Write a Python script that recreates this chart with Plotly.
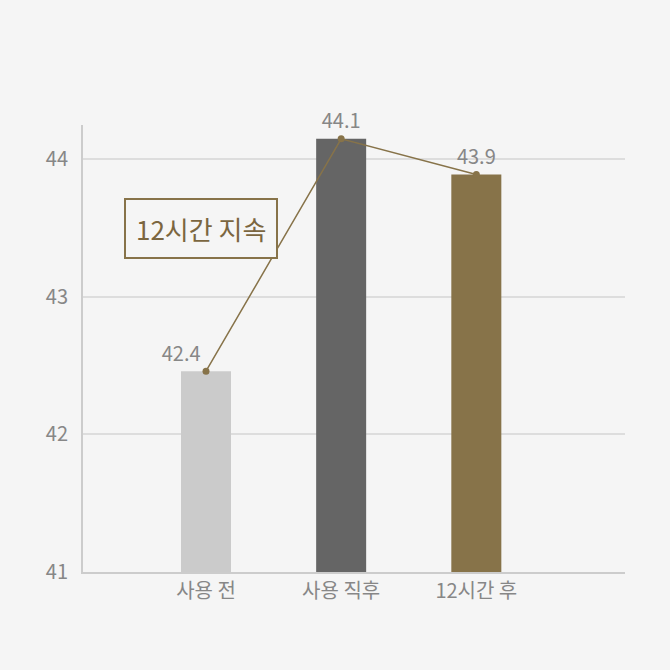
import plotly.graph_objects as go

categories = ["사용 전", "사용 직후", "12시간 후"]
values = [42.46, 44.15, 43.89]
value_labels = ["42.4", "44.1", "43.9"]
bar_colors = ["#cbcbcb", "#656565", "#877349"]
y_ticks = [41, 42, 43, 44]

font_family = "Noto Sans CJK KR"
line_color = "#877349"
bg = "#f5f5f5"

fig = go.Figure()

fig.add_trace(go.Bar(
    x=categories,
    y=values,
    marker=dict(color=bar_colors, line=dict(width=0)),
    width=0.37,
    hoverinfo="skip",
))

fig.add_trace(go.Scatter(
    x=categories,
    y=values,
    mode="lines+markers+text",
    line=dict(color=line_color, width=1.5),
    marker=dict(color=line_color, size=7),
    text=value_labels,
    textposition=["top left", "top center", "top center"],
    textfont=dict(size=20, color="#878787", family=font_family),
    cliponaxis=False,
))

fig.add_annotation(
    x=-0.04, y=43.5, xref="x", yref="y",
    text="12시간 지속",
    showarrow=False,
    font=dict(size=26, color="#7b6640", family=font_family),
    bgcolor=bg,
    bordercolor=line_color,
    borderwidth=2,
    borderpad=10,
)

fig.update_layout(
    width=670, height=670,
    paper_bgcolor=bg,
    plot_bgcolor=bg,
    showlegend=False,
    margin=dict(l=83, r=45, t=125, b=98),
    font=dict(family=font_family, color="#878787"),
)

fig.update_xaxes(
    range=[-0.91, 3.1],
    showgrid=False,
    showline=True, linecolor="#cccccc", linewidth=2,
    ticks="", ticklen=0,
    tickfont=dict(size=20, color="#878787"),
)

fig.update_yaxes(
    range=[41, 44.25],
    tickvals=y_ticks,
    showgrid=True, gridcolor="#dddddd", gridwidth=2,
    showline=True, linecolor="#cccccc", linewidth=2,
    zeroline=False,
    ticks="outside", ticklen=9, tickcolor="rgba(0,0,0,0)",
    tickfont=dict(size=20, color="#878787"),
)

fig.write_html(
    "out.html",
    config={"displayModeBar": False},
    post_script="document.body.style.margin='0';document.body.style.background='#f5f5f5';",
)
